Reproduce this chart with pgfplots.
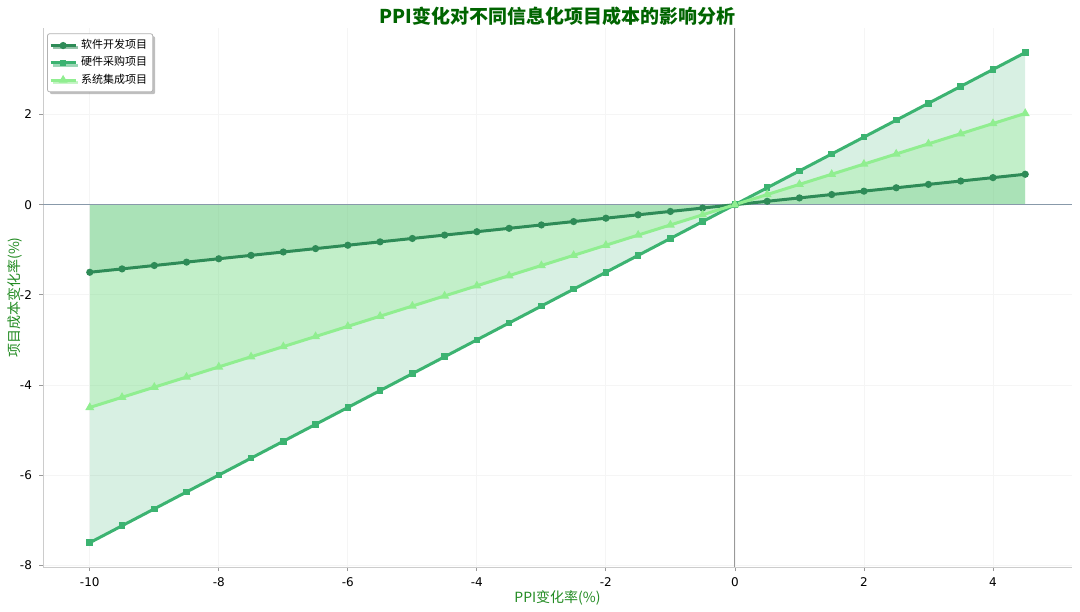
\documentclass[border=0pt]{standalone}
\usepackage{pgfplots}
\pgfplotsset{compat=1.18}
\usepackage{pgfplotstable}
\usepgfplotslibrary{fillbetween}
\usetikzlibrary{shadows}
\usepackage{fontspec}
\setmainfont{DejaVu Sans}
\newfontfamily\cjk{Noto Sans CJK SC}
\definecolor{sw}{HTML}{2E8B57}
\definecolor{hw}{HTML}{3CB371}
\definecolor{si}{HTML}{90EE90}
\definecolor{titlec}{HTML}{006400}
\definecolor{labc}{HTML}{228B22}
\definecolor{zeroc}{HTML}{8899AA}
\pgfplotstableread{
x sw hw si
-10 -1.5 -7.5 -4.5
-9.5 -1.425 -7.125 -4.275
-9 -1.35 -6.75 -4.05
-8.5 -1.275 -6.375 -3.825
-8 -1.2 -6 -3.6
-7.5 -1.125 -5.625 -3.375
-7 -1.05 -5.25 -3.15
-6.5 -0.975 -4.875 -2.925
-6 -0.9 -4.5 -2.7
-5.5 -0.825 -4.125 -2.475
-5 -0.75 -3.75 -2.25
-4.5 -0.675 -3.375 -2.025
-4 -0.6 -3 -1.8
-3.5 -0.525 -2.625 -1.575
-3 -0.45 -2.25 -1.35
-2.5 -0.375 -1.875 -1.125
-2 -0.3 -1.5 -0.9
-1.5 -0.225 -1.125 -0.675
-1 -0.15 -0.75 -0.45
-0.5 -0.075 -0.375 -0.225
0 0 0 0
0.5 0.075 0.375 0.225
1 0.15 0.75 0.45
1.5 0.225 1.125 0.675
2 0.3 1.5 0.9
2.5 0.375 1.875 1.125
3 0.45 2.25 1.35
3.5 0.525 2.625 1.575
4 0.6 3 1.8
4.5 0.675 3.375 2.025
}\datatable
\begin{document}
\begin{tikzpicture}
\begin{axis}[
  at={(0pt,0pt)}, anchor=south west,
  scale only axis,
  width=514.5pt, height=269.5pt,
  xmin=-10.725, xmax=5.225,
  ymin=-8.04, ymax=3.92,
  xtick={-10,-8,-6,-4,-2,0,2,4},
  ytick={-8,-6,-4,-2,0,2},
  /pgf/number format/assume math mode=true,
  ticklabel style={font=\fontsize{6}{7}\selectfont, text=black},
  axis lines*=left,
  axis line style={draw=black!20, line width=0.5pt},
  tick style={draw=black!40, line width=0.4pt},
  tick align=outside,
  major tick length=2pt,
  grid=major,
  grid style={draw=black!4, line width=0.4pt},
  title={\cjk\bfseries PPI变化对不同信息化项目成本的影响分析},
  title style={font=\fontsize{9.5}{11}\selectfont, text=titlec, yshift=-8.5pt},
  xlabel={\cjk PPI变化率(\%)},
  ylabel={\cjk 项目成本变化率(\%)},
  label style={font=\fontsize{7}{8}\selectfont, text=labc},
  xlabel style={yshift=5pt},
  ylabel style={yshift=-8pt},
  legend style={font=\cjk\fontsize{5.5}{6.5}\selectfont, draw=black!30, fill=white, drop shadow={shadow xshift=1.2pt, shadow yshift=-1.2pt, fill=black!50}, rounded corners=1pt, inner sep=0.8pt, row sep=-1.5pt, at={(0.004,0.99)}, anchor=north west},
  legend cell align=left,
  legend image code/.code={\draw[mark repeat=2, mark phase=2, line width=1.5pt] plot coordinates {(0cm,0cm) (0.22cm,0cm) (0.44cm,0cm)};},
  clip=false,
]
\addplot[draw=none, name path=zero, forget plot] coordinates {(-10,0) (4.5,0)};
\addplot[draw=none, name path=psw, forget plot] table[x=x,y=sw]{\datatable};
\addplot[draw=none, name path=phw, forget plot] table[x=x,y=hw]{\datatable};
\addplot[draw=none, name path=psi, forget plot] table[x=x,y=si]{\datatable};
\addplot[fill=sw, fill opacity=0.2, draw=none, forget plot] fill between[of=psw and zero];
\addplot[fill=hw, fill opacity=0.2, draw=none, forget plot] fill between[of=phw and zero];
\addplot[fill=si, fill opacity=0.3, draw=none, forget plot] fill between[of=psi and zero];
\draw[draw=black!40, line width=0.5pt] (axis cs:0,-8.04) -- (axis cs:0,3.92);
\draw[draw=zeroc, line width=0.5pt] (axis cs:-10.725,0) -- (axis cs:5.225,0);
\addplot[sw, line width=1.5pt, mark=*, mark size=1pt] table[x=x,y=sw]{\datatable};
\addlegendentry{软件开发项目}
\addplot[hw, line width=1.5pt, mark=square*, mark size=0.9pt] table[x=x,y=hw]{\datatable};
\addlegendentry{硬件采购项目}
\addplot[si, line width=1.5pt, mark=triangle*, mark size=1.1pt] table[x=x,y=si]{\datatable};
\addlegendentry{系统集成项目}
\end{axis}
\pgfresetboundingbox
\path[use as bounding box] (-21.5pt,-22pt) rectangle (518.5pt,283.5pt);
\end{tikzpicture}
\end{document}
